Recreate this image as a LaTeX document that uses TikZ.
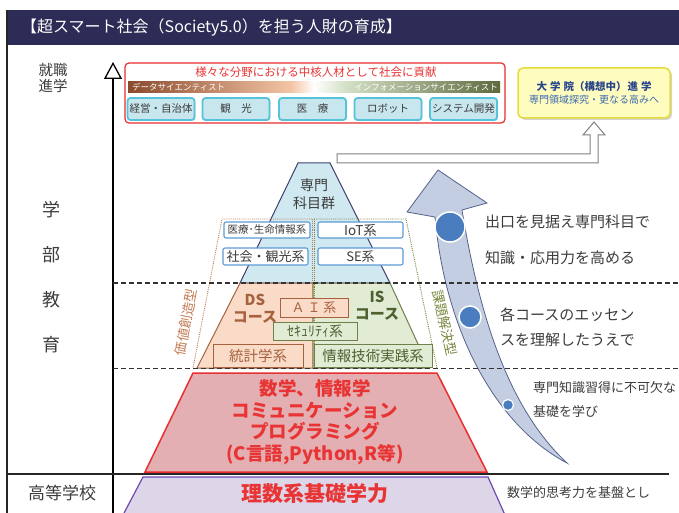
\documentclass[tikz,border=0pt]{standalone}
\usepackage{fontspec}
\setmainfont{Noto Sans CJK JP}
\usetikzlibrary{shadows,arrows.meta}
\newcommand\fsz[2]{\fontsize{#1}{#2}\selectfont}
\definecolor{titlebar}{RGB}{44,44,86}
\definecolor{txtdark}{RGB}{60,60,60}
\definecolor{pyrblue}{RGB}{208,232,240}
\definecolor{navyedge}{RGB}{62,62,110}
\definecolor{dsbrown}{RGB}{166,98,62}
\definecolor{dsfill}{RGB}{250,219,200}
\definecolor{isolive}{RGB}{112,128,76}
\definecolor{isfill}{RGB}{226,235,212}
\definecolor{istext}{RGB}{80,96,48}
\definecolor{vcbrown}{RGB}{196,124,84}
\definecolor{psolive}{RGB}{120,136,64}
\definecolor{redfill}{RGB}{228,175,178}
\definecolor{rededge}{RGB}{232,46,46}
\definecolor{redtext}{RGB}{232,52,52}
\definecolor{purfill}{RGB}{221,214,232}
\definecolor{puredge}{RGB}{112,72,176}
\definecolor{boxblue}{RGB}{91,155,213}
\definecolor{cyanfill}{RGB}{200,230,238}
\definecolor{cyanedge}{RGB}{86,195,217}
\definecolor{yelfill}{RGB}{255,252,192}
\definecolor{yeledge}{RGB}{230,220,60}
\definecolor{gradblue}{RGB}{40,70,140}
\definecolor{gradsub}{RGB}{60,105,176}
\definecolor{arrfill}{RGB}{196,206,226}
\definecolor{arredge}{RGB}{85,98,138}
\definecolor{dotblue}{RGB}{74,125,192}
\definecolor{c1}{RGB}{138,74,44}
\definecolor{c2}{RGB}{244,198,166}
\definecolor{c3}{RGB}{214,226,200}
\definecolor{c4}{RGB}{92,106,60}
\pgfdeclarehorizontalshading{sci}{100bp}{color(0bp)=(c1); color(25bp)=(c1); color(47bp)=(c2); color(50bp)=(white); color(54bp)=(c3); color(75bp)=(c4); color(100bp)=(c4)}
\tikzset{
  bluebox/.style={draw=boxblue, fill=white, line width=1.1pt, rounded corners=2pt, text=txtdark, inner sep=0pt},
  cyanbox/.style={draw=cyanedge, fill=cyanfill, line width=1.8pt, rounded corners=3pt, text=txtdark, inner sep=0pt, minimum width=67pt, minimum height=22pt, font=\fsz{10.5}{12}, drop shadow={opacity=0.25, shadow xshift=1pt, shadow yshift=-1pt}},
  dsbox/.style={draw=dsbrown, fill=dsfill, line width=1pt, text=dsbrown, inner sep=0pt},
  isbox/.style={draw=isolive, fill=isfill, line width=1pt, text=istext, inner sep=0pt},
  sidetext/.style={text=txtdark, anchor=west, inner sep=0pt},
  levelline/.style={line width=1.3pt, dash pattern=on 5pt off 3pt, black!80},
}
\begin{document}
\begin{tikzpicture}[x=1pt,y=-1pt]
\useasboundingbox (0,0) rectangle (679,513);
% title bar
\fill[titlebar] (7,10) rectangle (679,45);
\node[anchor=west, text=white, font=\fsz{16}{18}, inner sep=0pt] (title) at (21,28) {【超スマート社会（Society5.0）を担う人財の育成】};
\draw[line width=1.2pt, black!85] (7,10) -- (7,513);
% left labels
\node[align=center, text=txtdark, font=\fsz{14.5}{15.5}, inner sep=0pt] (job) at (53,78) {就職\\進学};
\node[text=txtdark, font=\fsz{18}{20}, inner sep=0pt] (g1) at (51,210) {学};
\node[text=txtdark, font=\fsz{18}{20}, inner sep=0pt] (g2) at (51,255) {部};
\node[text=txtdark, font=\fsz{18}{20}, inner sep=0pt] (g3) at (51,300) {教};
\node[text=txtdark, font=\fsz{18}{20}, inner sep=0pt] (g4) at (51,345) {育};
\node[text=txtdark, font=\fsz{17}{19}, inner sep=0pt] (hs) at (62,493) {高等学校};
% axis and level lines
\coordinate (axb) at (113,513);
\coordinate (axt) at (113,62);
\draw[line width=1.3pt, -{Triangle[open, length=17pt, width=18pt, line width=1.3pt]}] (axb) -- (axt);
\coordinate (hl1) at (7,474);
\coordinate (hl2) at (669,474);
\draw[line width=1.2pt, black!85] (hl1) -- (hl2);

% top red box
\node[draw=rededge, fill=white, line width=1.2pt, rounded corners=4pt, minimum width=380pt, minimum height=60pt, inner sep=0pt] (soc) at (315,93) {};
\node[text=redtext, font=\fsz{11.5}{13}, inner sep=0pt] (soct) at (316,72) {様々な分野における中核人材として社会に貢献};
\shade[shading=sci] (128,82) rectangle (500,93);
\node[anchor=west, text=white, font=\fsz{8.5}{10}, inner sep=0pt] (dsci) at (132,87.5) {データサイエンティスト};
\node[anchor=east, text=white, font=\fsz{8.5}{10}, inner sep=0pt] (isci) at (498,87.5) {インフォメーションサイエンティスト};
\node[cyanbox] (f1) at (161,109) {経営・自治体};
\node[cyanbox] (f2) at (236,109) {観\quad 光};
\node[cyanbox] (f3) at (312.5,109) {医\quad 療};
\node[cyanbox] (f4) at (388,109) {ロボット};
\node[cyanbox] (f5) at (463.5,109) {システム開発};

% graduate box
\node[draw=yeledge, fill=yelfill, line width=1.5pt, rounded corners=5pt, minimum width=152pt, minimum height=50pt, inner sep=0pt, drop shadow={opacity=0.35, shadow xshift=2pt, shadow yshift=-2pt}] (grad) at (594,93) {};
\node[text=gradblue, font=\bfseries\fsz{10.5}{13}, inner sep=0pt] (gradt) at (594,87) {大\hspace{3pt}学\hspace{3pt}院（構想中）\hspace{1pt}進\hspace{3pt}学};
\node[text=gradsub, font=\fsz{10}{12}, inner sep=0pt] (grads) at (594,100) {専門領域探究・更なる高みへ};

% top pyramid
\filldraw[fill=pyrblue, draw=navyedge, line width=1pt] (298,163) -- (330,163) -- (390,283) -- (240,283) -- cycle;
\node[align=center, text=txtdark, font=\fsz{14}{18}, inner sep=0pt] (spec) at (314,194) {専門\\科目群};
% hollow connector arrow
\filldraw[fill=white, draw=black!50, line width=1pt] (337,154) -- (590,154) -- (590,135) -- (583,135) -- (594,122) -- (605,135) -- (598,135) -- (598,163) -- (337,163) -- cycle;

% DS / IS trapezoid
\filldraw[fill=dsfill, draw=dsbrown, line width=1pt] (240,283) -- (313,283) -- (313,368) -- (197,368) -- cycle;
\filldraw[fill=isfill, draw=isolive, line width=1pt] (313,283) -- (390,283) -- (429,368) -- (313,368) -- cycle;
% dotted outlines
\draw[vcbrown, densely dotted, line width=0.9pt] (312,219) -- (222,219) -- (193,368);
\draw[psolive, densely dotted, line width=0.9pt] (314,219) -- (406,219) -- (437,368);
\draw[vcbrown, densely dotted, line width=0.9pt] (312,219) -- (312,368);
\draw[psolive, densely dotted, line width=0.9pt] (314.5,219) -- (314.5,368);
\node[rotate=79, text=vcbrown, font=\fsz{13.5}{15}, inner sep=0pt] (vc) at (186,322) {価値創造型};
\node[rotate=-78, text=psolive, font=\fsz{13.5}{15}, inner sep=0pt] (ps) at (445,323) {課題解決型};

% specialty boxes
\node[bluebox, minimum width=86pt, minimum height=16pt, font=\fsz{10.5}{12}] (b1) at (267,230) {医療･生命情報系};
\node[bluebox, minimum width=85pt, minimum height=16pt, font=\fsz{13.5}{15}] (b2) at (360.5,230) {IoT系};
\node[bluebox, minimum width=85pt, minimum height=17pt, font=\fsz{13}{15}] (b3) at (265.5,256.5) {社会・観光系};
\node[bluebox, minimum width=85pt, minimum height=17pt, font=\fsz{13}{15}] (b4) at (360.5,256.5) {SE系};

% course labels
\node[align=center, text=dsbrown, font=\bfseries\fsz{15}{17}, inner sep=0pt] (ds) at (255,309) {DS\\コース};
\node[align=center, text=istext, font=\bfseries\fsz{15}{17}, inner sep=0pt] (is) at (377,306) {IS\\コース};
\node[dsbox, minimum width=68pt, minimum height=19pt, font=\fsz{13}{15}] (ai) at (314,307.5) {Ａ Ｉ 系};
\node[isbox, minimum width=84pt, minimum height=18pt, font=\fsz{14}{15}] (sec) at (315,331) {ｾｷｭﾘﾃｨ系};
\node[dsbox, minimum width=90pt, minimum height=23pt, font=\fsz{14.5}{16}] (stat) at (258,355.5) {統計学系};
\node[isbox, minimum width=118pt, minimum height=23pt, font=\fsz{14.5}{16}] (prac) at (373,355.5) {情報技術実践系};

% red trapezoid
\filldraw[fill=redfill, draw=rededge, line width=1.5pt] (193,373) -- (437,373) -- (487,472) -- (145,472) -- cycle;
\node[align=center, text=redtext, font=\bfseries\fsz{18.5}{21.7}, inner sep=0pt] (base) at (315,422) {数学、情報学\\コミュニケーション\\プログラミング\\(C言語,Python,R等)};
% purple trapezoid
\filldraw[fill=purfill, draw=puredge, line width=1.2pt] (143,477) -- (488,477) -- (505,515) -- (123,515) -- cycle;
\node[text=redtext, font=\bfseries\fsz{21}{23}, inner sep=0pt] (found) at (315,494) {理数系基礎学力};

% big curved arrow
\filldraw[fill=arrfill, draw=arredge, line width=0.8pt]
  (567,463) .. controls (495,425) and (445,330) .. (435,217)
  -- (407,212) -- (438,170) -- (487,203) -- (462,210)
  .. controls (480,320) and (510,410) .. (567,463) -- cycle;
\node[circle, fill=dotblue, draw=white, line width=1.5pt, minimum size=30pt, inner sep=0pt] (d1) at (450,227) {};
\node[circle, fill=dotblue, draw=white, line width=1.5pt, minimum size=22pt, inner sep=0pt] (d2) at (470,317) {};
\node[circle, fill=dotblue, draw=white, line width=1.2pt, minimum size=11pt, inner sep=0pt] (d3) at (508,405) {};

% level dashed lines
\coordinate (dl1a) at (113,283);
\coordinate (dl1b) at (679,283);
\coordinate (dl2a) at (113,368.5);
\coordinate (dl2b) at (679,368.5);
\draw[levelline] (dl1a) -- (dl1b);
\draw[levelline] (dl2a) -- (dl2b);

% side texts
\node[sidetext, font=\fsz{15}{17}] (s1) at (485,222) {出口を見据え専門科目で};
\node[sidetext, font=\fsz{15}{17}] (s2) at (485,258) {知識・応用力を高める};
\node[sidetext, font=\fsz{15}{17}] (s3) at (500,315) {各コースのエッセン};
\node[sidetext, font=\fsz{15}{17}] (s4) at (500,340) {スを理解したうえで};
\node[sidetext, font=\fsz{13}{15}] (s5) at (533,388) {専門知識習得に不可欠な};
\node[sidetext, font=\fsz{13}{15}] (s6) at (533,412) {基礎を学び};
\node[sidetext, font=\fsz{13}{15}] (s7) at (507,493) {数学的思考力を基盤とし};
\end{tikzpicture}
\end{document}
